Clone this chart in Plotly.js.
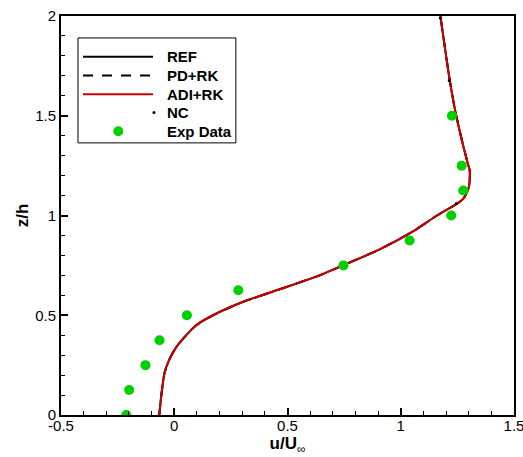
<!DOCTYPE html>
<html>
<head>
<meta charset="utf-8">
<script src="https://cdn.plot.ly/plotly-3.0.1.min.js"></script>
<style>html,body{margin:0;padding:0;background:#fff;}#chart{width:523px;height:457px;}</style>
</head>
<body>
<div id="chart"></div>
<script>
// Velocity profile (REF / PD+RK / ADI+RK nearly identical)
const zProfile = [0, 0.09, 0.21, 0.28, 0.34, 0.40, 0.45, 0.50, 0.57, 0.63, 0.70, 0.75, 0.83, 0.92, 1.0, 1.06, 1.09, 1.14, 1.19, 1.23, 1.26, 1.5, 1.68, 2.0];
const uRef   = [-0.066, -0.058, -0.043, -0.021, 0.009, 0.053, 0.097, 0.171, 0.31, 0.465, 0.642, 0.745, 0.907, 1.054, 1.16, 1.25, 1.28, 1.30, 1.305, 1.304, 1.296, 1.245, 1.216, 1.175];
const uPDRK  = [-0.066, -0.058, -0.043, -0.021, 0.009, 0.053, 0.097, 0.171, 0.31, 0.465, 0.642, 0.745, 0.907, 1.054, 1.16, 1.25, 1.28, 1.30, 1.305, 1.304, 1.296, 1.245, 1.216, 1.175];
const uADIRK = [-0.066, -0.058, -0.043, -0.021, 0.009, 0.053, 0.097, 0.171, 0.31, 0.465, 0.642, 0.745, 0.907, 1.054, 1.16, 1.25, 1.28, 1.30, 1.305, 1.304, 1.296, 1.245, 1.216, 1.175];
// NC sample points
const zNC = [1.06, 1.675, 1.99];
const uNC = [1.245, 1.214, 1.175];
// Experimental data
const zExp = [0, 0.125, 0.25, 0.375, 0.5, 0.625, 0.75, 0.875, 1.0, 1.125, 1.25, 1.5];
const uExp = [-0.212, -0.199, -0.127, -0.065, 0.056, 0.283, 0.747, 1.039, 1.223, 1.276, 1.269, 1.226];

const seriesNames = ['REF', 'PD+RK', 'ADI+RK', 'NC', 'Exp Data'];
const xTicks = [-0.5, 0, 0.5, 1, 1.5];
const xTickText = ['-0.5', '0', '0.5', '1', '1.5'];
const yTicks = [0, 0.5, 1, 1.5, 2];
const yTickText = ['0', '0.5', '1', '1.5', '2'];

const FONT = 'Liberation Sans, Arial, sans-serif';
const lineStyles = [
  {color: '#000', width: 2},
  {color: '#000', width: 2, dash: '10px,9px'},
  {color: '#cc0000', width: 2}
];
const ncMarker = {color: '#000', size: 3};
const expMarker = {color: '#00d000', size: 10};

const traces = [
  {x: uRef, y: zProfile, name: seriesNames[0], mode: 'lines', line: Object.assign({shape: 'spline', smoothing: 0.5}, lineStyles[0])},
  {x: uPDRK, y: zProfile, name: seriesNames[1], mode: 'lines', line: Object.assign({shape: 'spline', smoothing: 0.5}, lineStyles[1])},
  {x: uADIRK, y: zProfile, name: seriesNames[2], mode: 'lines', line: Object.assign({shape: 'spline', smoothing: 0.5}, lineStyles[2])},
  {x: uNC, y: zNC, name: seriesNames[3], mode: 'markers', marker: ncMarker},
  {x: uExp, y: zExp, name: seriesNames[4], mode: 'markers', marker: expMarker}
];

// Custom legend (paper coordinates)
const legX0 = 0.0375, legX1 = 0.386, legY0 = 0.682, legY1 = 0.945;
const rowY = [0.898, 0.851, 0.804, 0.758, 0.711];
const sampleX0 = 0.0486, sampleX1 = 0.203, textX = 0.2296;
const shapes = [
  {type: 'rect', xref: 'paper', yref: 'paper', x0: legX0, x1: legX1, y0: legY0, y1: legY1,
   line: {color: '#000', width: 1}, fillcolor: '#fff', layer: 'above'}
];
for (let i = 0; i < 3; i++) {
  shapes.push({type: 'line', xref: 'paper', yref: 'paper', x0: sampleX0, x1: sampleX1, y0: rowY[i], y1: rowY[i],
    line: lineStyles[i], layer: 'above'});
}
shapes.push({type: 'circle', xref: 'paper', yref: 'paper', xsizemode: 'pixel', ysizemode: 'pixel',
  xanchor: 0.2053, yanchor: rowY[3], x0: -1.5, x1: 1.5, y0: -1.5, y1: 1.5,
  fillcolor: '#000', line: {width: 0}, layer: 'above'});
shapes.push({type: 'circle', xref: 'paper', yref: 'paper', xsizemode: 'pixel', ysizemode: 'pixel',
  xanchor: 0.1265, yanchor: rowY[4], x0: -5, x1: 5, y0: -5, y1: 5,
  fillcolor: '#00d000', line: {width: 0}, layer: 'above'});
const annotations = seriesNames.map((n, i) => ({
  xref: 'paper', yref: 'paper', x: textX, y: rowY[i], xanchor: 'left', yanchor: 'middle',
  text: '<b>' + n + '</b>', showarrow: false, font: {family: FONT, size: 15, color: '#000'}
}));

const axisCommon = {
  showgrid: false, zeroline: false,
  showline: true, linecolor: '#000', linewidth: 2, mirror: true,
  ticks: 'inside', ticklen: 7, tickwidth: 2, tickcolor: '#000',
  minor: {ticks: 'inside', ticklen: 4, tickwidth: 1, tickcolor: '#000', dtick: 0.1},
  tickfont: {family: FONT, size: 15, color: '#000'},
  tickmode: 'array', ticklabeloverflow: 'allow'
};

const layout = {
  width: 523, height: 457,
  margin: {l: 61, r: 9, t: 16, b: 42},
  paper_bgcolor: '#fff', plot_bgcolor: '#fff',
  showlegend: false,
  shapes: shapes,
  annotations: annotations,
  xaxis: Object.assign({}, axisCommon, {
    range: [-0.5, 1.5], tickvals: xTicks, ticktext: xTickText, ticklabelstandoff: -4,
    title: {text: '<b>u/U</b><sub>∞</sub>', font: {family: FONT, size: 17, color: '#000'}, standoff: 2}
  }),
  yaxis: Object.assign({}, axisCommon, {
    range: [0, 2], tickvals: yTicks, ticktext: yTickText,
    title: {text: '<b>z/h</b>', font: {family: FONT, size: 17, color: '#000'}, standoff: 2}
  })
};

Plotly.newPlot('chart', traces, layout, {displayModeBar: false, staticPlot: true});
</script>
</body>
</html>
